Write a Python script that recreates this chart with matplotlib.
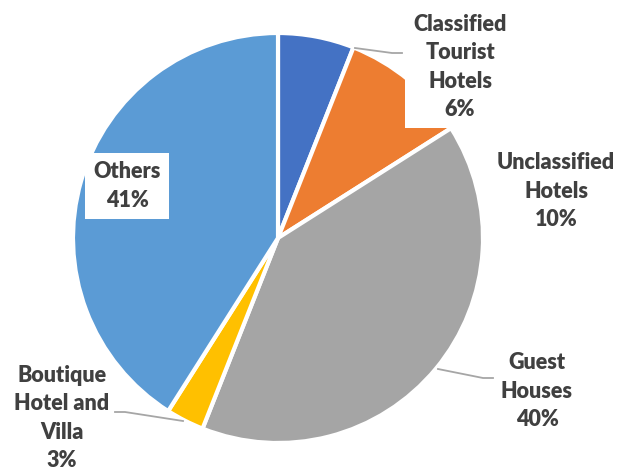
import numpy as np
import matplotlib
matplotlib.use("Agg")
import matplotlib.pyplot as plt

# data
categories = ["Classified\nTourist\nHotels", "Unclassified\nHotels", "Guest\nHouses",
              "Boutique\nHotel and\nVilla", "Others"]
shares = [6, 10, 40, 3, 41]
colors = ["#4472C4", "#ED7D31", "#A5A5A5", "#FFC000", "#5B9BD5"]

W, H = 618, 470
cx, cy, R = 278, H - 238, 205

# label layout (pixel coords, y from top)
label_pos = [(460, 67), (556, 191), (537, 391), (62, 418), (127, 186)]
label_box = [True, False, False, False, True]
# leader lines: (wedge point, elbow, end) in pixels from top, None = no line
leaders = [
    [(355, 48), (392, 53), (402, 53)],
    None,
    [(438, 369), (483, 378), (493, 378)],
    [(183, 421), (125, 412), (115, 412)],
    None,
]

fig = plt.figure(figsize=(W / 100, H / 100), dpi=100)
ax = fig.add_axes([0, 0, 1, 1])

ax.pie(shares, colors=colors, startangle=90, counterclock=False,
       center=(cx, cy), radius=R, frame=True,
       wedgeprops=dict(edgecolor="white", linewidth=3))
ax.set_xlim(0, W)
ax.set_ylim(0, H)
ax.set_aspect("equal")
ax.axis("off")

for pts in leaders:
    if pts is None:
        continue
    xs = [p[0] for p in pts]
    ys = [H - p[1] for p in pts]
    ax.plot(xs, ys, color="#A6A6A6", linewidth=1.3, zorder=3)

for name, val, (lx, ly), boxed in zip(categories, shares, label_pos, label_box):
    bbox = dict(facecolor="white", edgecolor="none", pad=6) if boxed else None
    ax.text(lx, H - ly, f"{name}\n{val}%", ha="center", va="center",
            fontsize=15.5, fontweight="heavy", family=["Lato", "DejaVu Sans"],
            color="#404040", linespacing=1.42, bbox=bbox, zorder=4)

fig.savefig("out.png", dpi=100)
